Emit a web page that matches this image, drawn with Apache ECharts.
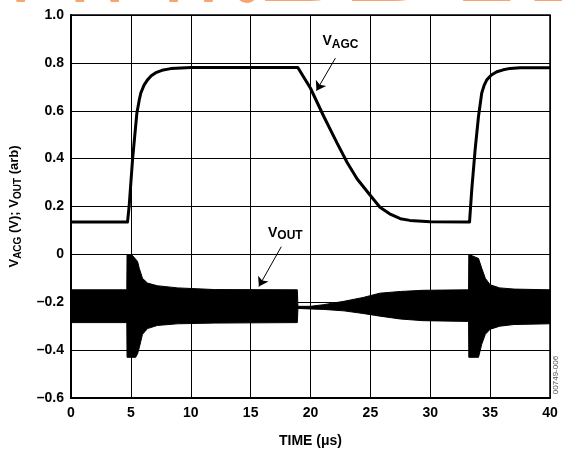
<!DOCTYPE html>
<html>
<head>
<meta charset="utf-8">
<title>VAGC / VOUT vs time</title>
<script src="https://cdn.jsdelivr.net/npm/echarts@6/dist/echarts.min.js"></script>
<style>
  html, body { margin: 0; padding: 0; background: #fff; }
  #chart { width: 562px; height: 453px; }
</style>
</head>
<body>
<div id="chart"></div>
<script>
// V_AGC trace (time in us, volts)
const agcTime = [0, 4.72, 4.86, 5.14, 5.5, 5.7, 5.83, 6.1, 6.39, 6.7, 7.08, 7.6, 8.33, 9.2, 10, 18.94, 20, 21.1, 22.2, 23.06, 23.9, 25, 25.8, 26.7, 27.5, 28.3, 30, 33.28, 33.47, 33.75, 34.03, 34.3, 34.5, 34.72, 35.1, 35.56, 36.1, 36.67, 37.5, 40];
const agcVolt = [0.135, 0.135, 0.204, 0.397, 0.59, 0.645, 0.674, 0.707, 0.729, 0.746, 0.759, 0.769, 0.776, 0.779, 0.781, 0.781, 0.694, 0.577, 0.467, 0.384, 0.315, 0.246, 0.197, 0.167, 0.149, 0.142, 0.136, 0.135, 0.273, 0.439, 0.577, 0.674, 0.706, 0.729, 0.749, 0.763, 0.771, 0.777, 0.78, 0.78];

// V_OUT is a dense carrier, drawn as its envelope (upper / lower edge)
const outTime  = [0, 4.66, 4.68, 5.1, 5.4, 5.56, 5.7, 5.97, 6.39, 7.2, 8.9, 12, 18.9, 18.95, 20, 21.1, 22.8, 24.4, 25.8, 27.5, 29.4, 33.2, 33.22, 34.03, 34.3, 34.6, 35.0, 35.8, 37, 40];
const outUpper = [-0.148, -0.148, -0.003, -0.003, -0.02, -0.03, -0.058, -0.1, -0.12, -0.131, -0.14, -0.147, -0.148, -0.217, -0.217, -0.21, -0.196, -0.18, -0.162, -0.155, -0.15, -0.148, 0.0, -0.017, -0.058, -0.1, -0.127, -0.14, -0.145, -0.148];
const outLower = [-0.285, -0.285, -0.43, -0.43, -0.43, -0.415, -0.39, -0.334, -0.31, -0.297, -0.29, -0.287, -0.285, -0.226, -0.228, -0.23, -0.236, -0.247, -0.258, -0.27, -0.277, -0.28, -0.43, -0.43, -0.375, -0.334, -0.313, -0.3, -0.293, -0.29];

const yTicks = [-0.6, -0.4, -0.2, 0, 0.2, 0.4, 0.6, 0.8, 1.0];
const yTickLabels = ['\u20130.6', '\u20130.4', '\u20130.2', '0', '0.2', '0.4', '0.6', '0.8', '1.0'];

const FONT = '"Liberation Sans", Arial, sans-serif';

let chart = echarts.init(document.getElementById('chart'), null, { renderer: 'canvas' });

let agcData = agcTime.map((t, i) => [t, agcVolt[i]]);
let outData = outTime.map((t, i) => [t, outUpper[i], outLower[i]]);

// one filled polygon: upper edge left->right, lower edge right->left
function renderEnvelope(params, api) {
  if (params.dataIndex !== 0) return null;
  let pts = [];
  for (let i = 0; i < outData.length; i++) pts.push(api.coord([outData[i][0], outData[i][1]]));
  for (let i = outData.length - 1; i >= 0; i--) pts.push(api.coord([outData[i][0], outData[i][2]]));
  return {
    type: 'polygon',
    shape: { points: pts },
    style: { fill: '#000', stroke: '#000', lineWidth: 1 }
  };
}

let subRich = {
  m: { fontFamily: FONT, fontWeight: 'bold', fontSize: 14, color: '#000', lineHeight: 18, verticalAlign: 'middle' },
  s: { fontFamily: FONT, fontWeight: 'bold', fontSize: 12, color: '#000', lineHeight: 12, verticalAlign: 'bottom' }
};

let option = {
  animation: false,
  backgroundColor: '#fff',
  grid: {
    left: 70, right: 12, top: 15, bottom: 53,
    show: true, borderColor: '#000', borderWidth: 1.5
  },
  graphic: [
    {
      // orange watermark cut by the top edge
      type: 'text', x: -44, y: -98, z: -10, silent: true,
      style: {
        text: 'www.BDTIC.com', font: 'bold 130px "Liberation Serif", serif',
        fill: '#f9a36f', verticalAlign: 'top'
      }
    },
    {
      type: 'text', x: 556, y: 375, rotation: Math.PI / 2, silent: true,
      style: { text: '00749-006', font: '8px ' + FONT, fill: '#555', align: 'center', verticalAlign: 'middle' }
    }
  ],
  xAxis: {
    type: 'value',
    min: 0, max: 40, interval: 5,
    name: 'TIME (\u03bcs)',
    nameLocation: 'middle',
    nameGap: 36,
    nameTextStyle: { fontFamily: FONT, fontWeight: 'bold', fontSize: 14, color: '#000' },
    axisLine: { show: true, onZero: false, lineStyle: { color: '#000', width: 2 } },
    axisTick: { show: false },
    axisLabel: { margin: 8, fontFamily: FONT, fontWeight: 'bold', fontSize: 14, color: '#000' },
    splitLine: { show: true, lineStyle: { color: '#000', width: 1 } }
  },
  yAxis: {
    type: 'value',
    min: -0.6, max: 1.0, interval: 0.2,
    name: '{m|V}{s|ACG}{m| (V); V}{s|OUT}{m| (arb)}',
    nameLocation: 'middle',
    nameGap: 48,
    nameTextStyle: {
      rich: {
        m: { fontFamily: FONT, fontWeight: 'bold', fontSize: 13, color: '#000', lineHeight: 17, verticalAlign: 'middle' },
        s: { fontFamily: FONT, fontWeight: 'bold', fontSize: 10, color: '#000', lineHeight: 10, verticalAlign: 'bottom' }
      }
    },
    axisLine: { show: true, onZero: false, lineStyle: { color: '#000', width: 2 } },
    axisTick: { show: false },
    axisLabel: {
      margin: 7, fontFamily: FONT, fontWeight: 'bold', fontSize: 14, color: '#000',
      formatter: function (v) {
        let i = yTicks.findIndex(t => Math.abs(t - v) < 1e-6);
        return i >= 0 ? yTickLabels[i] : '';
      }
    },
    splitLine: { show: true, lineStyle: { color: '#000', width: 1 } }
  },
  series: [
    {
      name: 'VOUT',
      type: 'custom',
      renderItem: renderEnvelope,
      data: outData,
      encode: { x: 0, y: [1, 2] },
      silent: true,
      z: 3
    },
    {
      name: 'VAGC',
      type: 'line',
      data: agcData,
      symbol: 'none',
      smooth: false,
      lineStyle: { color: '#000', width: 3, join: 'round' },
      z: 4,
      markLine: {
        silent: true,
        symbol: ['none', 'arrow'],
        symbolSize: 9,
        label: { show: false },
        lineStyle: { color: '#000', width: 1, type: 'solid' },
        data: [
          [{ coord: [22.08, 0.82] }, { coord: [20.5, 0.684] }],
          [{ coord: [17.56, 0.032] }, { coord: [15.69, -0.134] }]
        ]
      },
      markPoint: {
        silent: true,
        symbolSize: 0,
        label: {
          show: true, position: 'inside',
          formatter: p => p.name,
          rich: subRich
        },
        data: [
          { name: '{m|V}{s|AGC}', coord: [22.5, 0.89] },
          { name: '{m|V}{s|OUT}', coord: [17.9, 0.089] }
        ]
      }
    }
  ]
};

chart.setOption(option);
</script>
</body>
</html>
